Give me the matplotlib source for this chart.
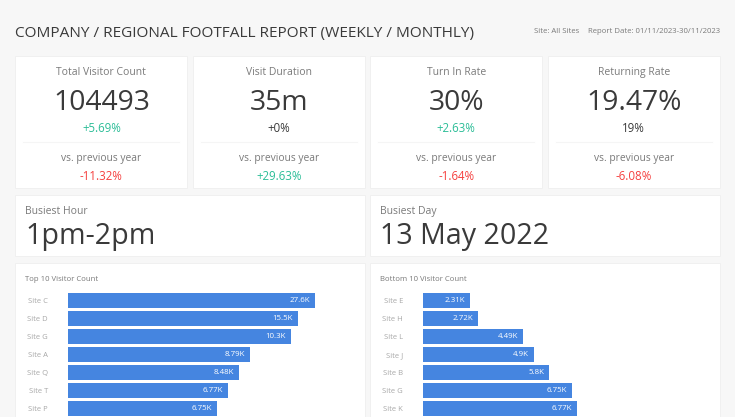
#!/usr/bin/python3
import matplotlib
matplotlib.use('Agg')
import matplotlib.pyplot as plt
from matplotlib.patches import Rectangle

# KPI cards
kpi_titles = ['Total Visitor Count', 'Visit Duration', 'Turn In Rate', 'Returning Rate']
kpi_values = ['104493', '35m', '30%', '19.47%']
kpi_deltas = ['+5.69%', '+0%', '+2.63%', '19%']
kpi_prev = ['-11.32%', '+29.63%', '-1.64%', '-6.08%']

# bar lengths (they do not follow the printed labels)
top_sites = ['Site C', 'Site D', 'Site G', 'Site A', 'Site Q', 'Site T', 'Site P']
top_lengths = [11.2, 10.43, 10.1, 8.25, 7.75, 7.25, 6.75]
top_labels = ['27.6K', '15.5K', '10.3K', '8.79K', '8.48K', '6.77K', '6.75K']
bottom_sites = ['Site E', 'Site H', 'Site L', 'Site J', 'Site B', 'Site G', 'Site K']
bottom_lengths = [2.13, 2.49, 4.53, 5.03, 5.71, 6.75, 6.98]
bottom_labels = ['2.31K', '2.72K', '4.49K', '4.9K', '5.8K', '6.75K', '6.77K']

W, H = 735, 417
BG = '#f7f7f7'
EDGE = '#f0f0f0'
DARK = '#3a3a3a'
GREY = '#7a7a7a'
GREEN = '#2bbd97'
RED = '#f5403f'
BLUE = '#4585e0'

plt.rcParams['font.family'] = ['Open Sans', 'DejaVu Sans']

fig = plt.figure(figsize=(W / 100, H / 100), dpi=100, facecolor=BG)

# page layer in pixel coordinates, y going down
page = fig.add_axes([0, 0, 1, 1])
page.set_xlim(0, W)
page.set_ylim(H, 0)
page.axis('off')


def card(x0, y0, x1, y1):
    page.add_patch(Rectangle((x0, y0), x1 - x0, y1 - y0, facecolor='white', edgecolor=EDGE, linewidth=0.7))


def delta_color(txt):
    if txt.startswith('+') and txt != '+0%':
        return GREEN
    if txt.startswith('-'):
        return RED
    return DARK


page.text(15, 33, 'COMPANY / REGIONAL FOOTFALL REPORT (WEEKLY / MONTHLY)', fontsize=11.1, color=DARK, va='center', ha='left')
page.text(534, 31.5, 'Site: All Sites', fontsize=5.6, color=GREY, va='center', ha='left')
page.text(720, 31.5, 'Report Date: 01/11/2023-30/11/2023', fontsize=5.55, color=GREY, va='center', ha='right')

kpi_x = [(15.5, 187.3), (192.7, 364.7), (370.3, 542.3), (547.7, 719.7)]
for i, (x0, x1) in enumerate(kpi_x):
    card(x0, 56.3, x1, 188.3)
    cx = (x0 + x1) / 2
    page.text(cx, 72.5, kpi_titles[i], fontsize=7.5, color=GREY, ha='center', va='center')
    page.text(cx, 102.5, kpi_values[i], fontsize=20.3, color=DARK, ha='center', va='center')
    page.text(cx, 129, kpi_deltas[i], fontsize=8.3, color=delta_color(kpi_deltas[i]), ha='center', va='center')
    page.plot([x0 + 8, x1 - 8], [142, 142], color='#f5f5f5', lw=0.8)
    page.text(cx, 158.5, 'vs. previous year', fontsize=7.4, color=GREY, ha='center', va='center')
    page.text(cx, 176, kpi_prev[i], fontsize=8.3, color=delta_color(kpi_prev[i]), ha='center', va='center')

# busiest hour / day
card(15.5, 194.7, 364.7, 256.3)
card(370.3, 194.7, 719.7, 256.3)
page.text(25.5, 211.5, 'Busiest Hour', fontsize=7.5, color=GREY, va='center')
page.text(25.5, 236.5, '1pm-2pm', fontsize=20.6, color=DARK, va='center')
page.text(380.5, 211.5, 'Busiest Day', fontsize=7.5, color=GREY, va='center')
page.text(380.5, 236.5, '13 May 2022', fontsize=20.6, color=DARK, va='center')

# bar cards run off the bottom of the picture
card(15.5, 262.7, 364.7, 430)
card(370.3, 262.7, 719.7, 430)
page.text(25, 279.5, 'Top 10 Visitor Count', fontsize=5.6, color=GREY, va='center')
page.text(380, 279.5, 'Bottom 10 Visitor Count', fontsize=5.6, color=GREY, va='center')

PX_PER_UNIT = 149 / 6.75


def bar_panel(left_px, sites, lengths, labels):
    top_px = 291.5
    row_px = 18
    height_px = row_px * len(sites)
    width_px = 280
    ax = fig.add_axes([left_px / W, 1 - (top_px + height_px) / H, width_px / W, height_px / H])
    ax.patch.set_alpha(0)
    ypos = list(range(len(sites)))
    ax.barh(ypos, lengths, height=15 / 18, color=BLUE)
    ax.set_xlim(0, width_px / PX_PER_UNIT)
    ax.set_ylim(len(sites) - 0.5, -0.5)
    ax.set_yticks(ypos)
    ax.set_yticklabels(sites, fontsize=5.5, color='#a8a8a8')
    ax.set_xticks([])
    ax.tick_params(axis='y', length=0, pad=14.4)
    for side in ax.spines.values():
        side.set_visible(False)
    for y, v, lab in zip(ypos, lengths, labels):
        ax.annotate(lab, (v, y), xytext=(-3.6, 0), textcoords='offset points', color='white',
                    fontsize=5.7, ha='right', va='center')


bar_panel(68, top_sites, top_lengths, top_labels)
bar_panel(423, bottom_sites, bottom_lengths, bottom_labels)

fig.savefig('out.png', dpi=100, facecolor=BG)
plt.close(fig)
